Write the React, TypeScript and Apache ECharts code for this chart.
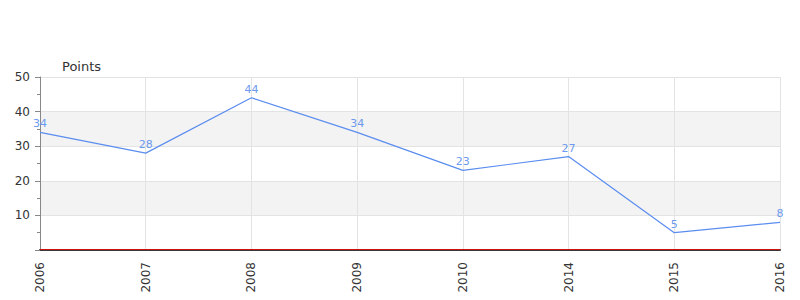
import React, { useEffect, useRef } from "react";
import * as echarts from "echarts";

const categories = ["2006", "2007", "2008", "2009", "2010", "2014", "2015", "2016"];
const points = [34, 28, 44, 34, 23, 27, 5, 8];
const yAxisName = "Points";

export default function App() {
  const ref = useRef<HTMLDivElement>(null);
  useEffect(() => {
    const chart = echarts.init(ref.current!, null, { renderer: "svg" });
    const font = "DejaVu Sans";
    chart.setOption({
      animation: false,
      grid: { left: 40, right: 20, top: 77, bottom: 50, containLabel: false },
      xAxis: {
        type: "category",
        data: categories,
        boundaryGap: false,
        axisLine: { lineStyle: { color: "#3a3a3a", width: 2 } },
        axisTick: { show: false },
        axisLabel: {
          rotate: 90,
          margin: 12,
          color: "#333",
          fontFamily: font,
          fontSize: 12,
          interval: 0,
        },
        splitLine: { show: true, lineStyle: { color: "#e3e3e3", width: 1 } },
      },
      yAxis: {
        type: "value",
        min: 0,
        max: 50,
        interval: 10,
        name: yAxisName,
        nameLocation: "end",
        nameGap: 4,
        nameTextStyle: {
          color: "#333",
          fontFamily: font,
          fontSize: 13,
          align: "left",
          padding: [0, 0, 0, 22],
        },
        axisLine: { show: true, lineStyle: { color: "#888" } },
        axisTick: { show: true, length: 5, lineStyle: { color: "#888" } },
        minorTick: { show: true, splitNumber: 2, length: 3, lineStyle: { color: "#888" } },
        axisLabel: {
          showMinLabel: false,
          margin: 10,
          color: "#333",
          fontFamily: font,
          fontSize: 12,
        },
        splitLine: { show: true, lineStyle: { color: "#e3e3e3" } },
        splitArea: { show: true, areaStyle: { color: ["#ffffff", "#f3f3f3"] } },
      },
      series: [
        {
          type: "line",
          data: points,
          symbol: "circle",
          symbolSize: 0.1,
          showSymbol: true,
          clip: false,
          lineStyle: { color: "#5b8def", width: 1.2 },
          itemStyle: { color: "#5b8def" },
          label: {
            show: true,
            position: "top",
            distance: 3,
            color: "#6d99ee",
            fontFamily: font,
            fontSize: 11,
          },
          markLine: {
            silent: true,
            symbol: "none",
            label: { show: false },
            lineStyle: { color: "#cc1111", width: 1, type: "solid" },
            data: [{ yAxis: 0.15 }],
          },
        },
      ],
    });
    return () => chart.dispose();
  }, []);
  return <div ref={ref} style={{ width: 800, height: 300, position: "absolute", left: 0, top: 0 }} />;
}
